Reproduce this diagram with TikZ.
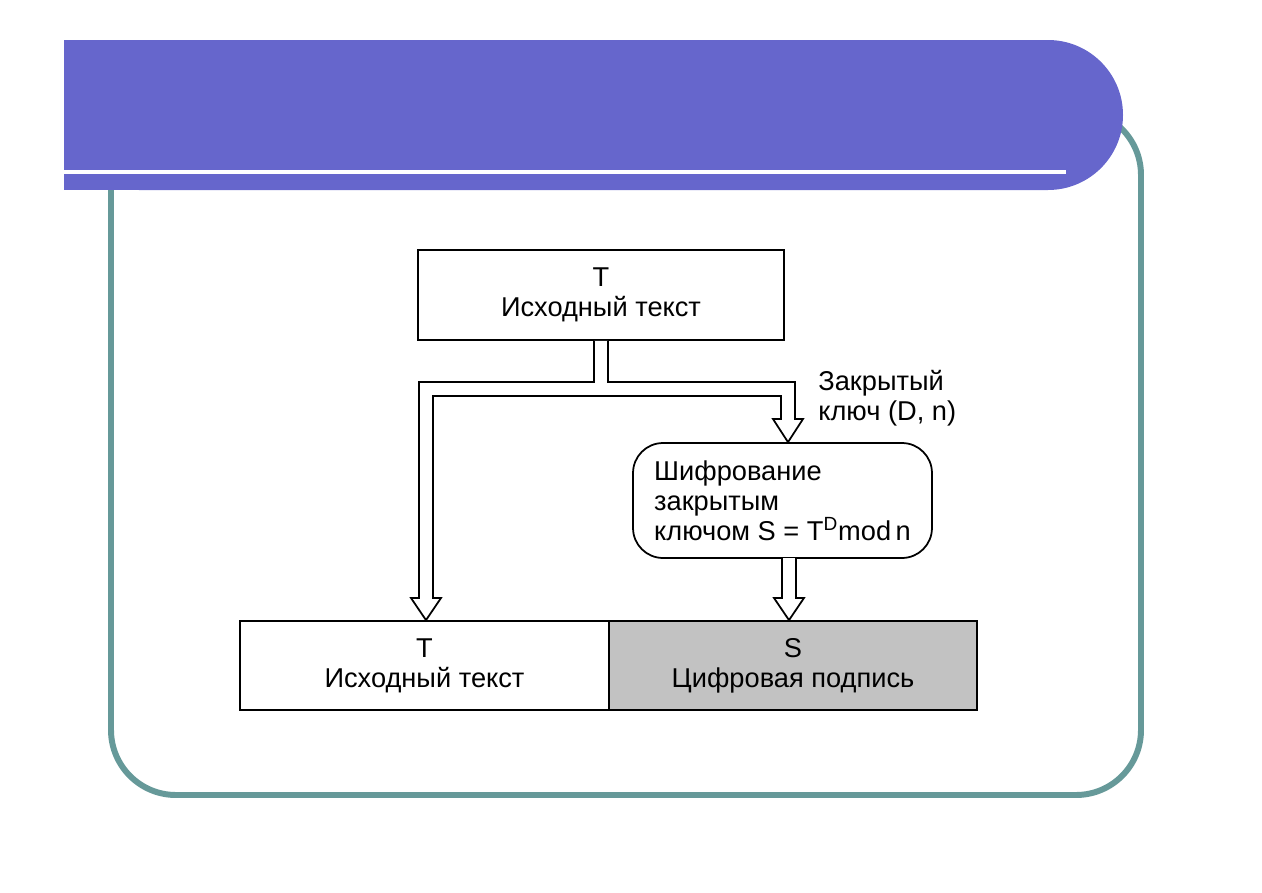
\documentclass[tikz,border=0pt]{standalone}
\usepackage{fontspec}
\setmainfont{Liberation Sans}
\usetikzlibrary{positioning,calc}

\definecolor{bandblue}{RGB}{102,102,204}
\definecolor{frameteal}{RGB}{102,153,153}

\tikzset{
    textbox/.style={draw, line width=1pt, align=center, inner sep=0pt,
        font=\fontsize{15.5}{17}\selectfont},
    hollow/.style={draw, line width=1pt, fill=white, line join=miter},
}

\begin{document}
\begin{tikzpicture}[x=0.02cm, y=-0.02cm]
    \useasboundingbox (0,0) rectangle (1262,893);

    % Slide frame and title band
    \draw[frameteal, line width=3.4pt, rounded corners=1.3cm] (111,110) rectangle (1141,795);
    \fill[bandblue, rounded corners=1.5cm] (64,40) rectangle (1123,190);
    \fill[bandblue] (64,40) rectangle (900,190);
    \fill[white] (64,170) rectangle (1066,174);

    % Boxes
    \node[textbox, minimum width=7.32cm, minimum height=1.8cm] (src) at (601,295)
        {T\\Исходный текст};
    \node[textbox, rounded corners=0.6cm, align=left,
        minimum width=5.98cm, minimum height=2.3cm] (enc) at (782.5,500.5)
        {Шифрование\\закрытым\\ключом S = T\textsuperscript{D}mod\,n};
    \node[textbox, minimum width=7.38cm, minimum height=1.78cm] (plain) at (424.5,665.5)
        {T\\Исходный текст};
    \node[textbox, fill=black!24, minimum width=7.36cm, minimum height=1.78cm] (sign) at (793,665.5)
        {S\\Цифровая подпись};
    \node[align=left, anchor=west, inner sep=0pt, font=\fontsize{15.5}{17}\selectfont] (key) at (818,398)
        {Закрытый\\ключ (D, n)};

    % Split hollow arrow from the source text
    \coordinate (ltip) at (plain.north -| 426,0);
    \coordinate (rtip) at (enc.north -| 788,0);
    \draw[hollow] ($(src.south)+(-7,0)$) -- (594,382) -- (419,382) -- (419,598) -- (411,598)
        -- (ltip) -- (441,598) -- (433,598) -- (433,396) -- (781,396) -- (781,419)
        -- (773,419) -- (rtip) -- (803,419) -- (795,419) -- (795,382) -- (608,382)
        -- ($(src.south)+(7,0)$);

    % Hollow arrow from encryption to signature
    \coordinate (stip) at (sign.north -| 789,0);
    \draw[hollow] (782,558) -- (782,598) -- (774,598) -- (stip) -- (804,598)
        -- (796,598) -- (796,558);
\end{tikzpicture}
\end{document}
